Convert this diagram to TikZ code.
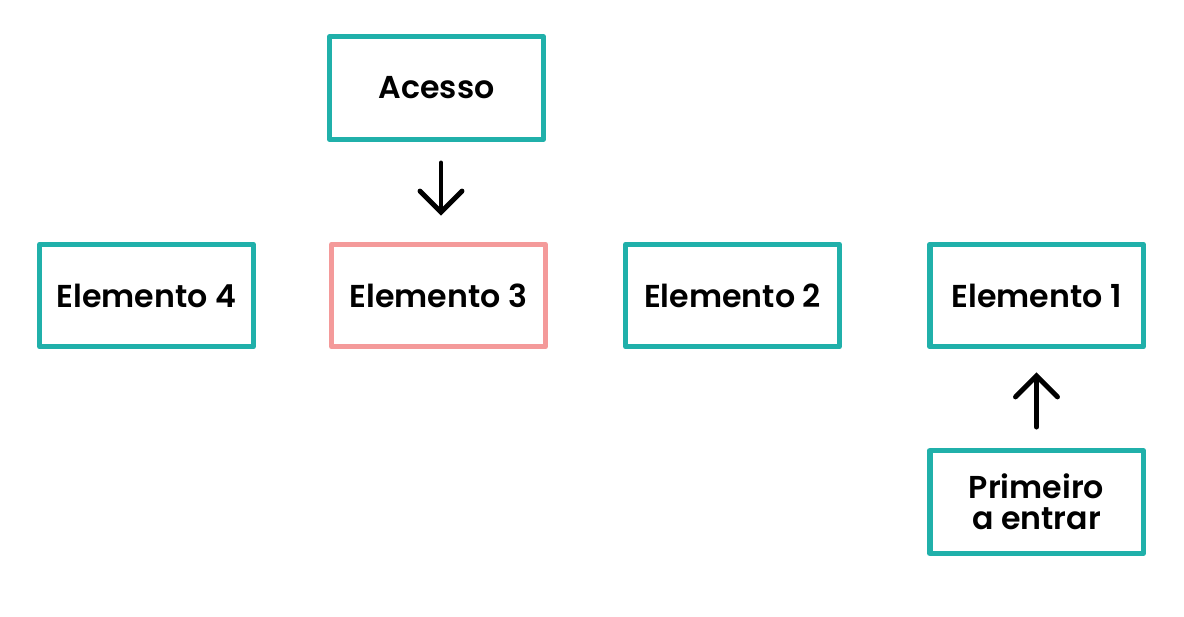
\documentclass[tikz,border=0pt]{standalone}
\usepackage{fontspec}
\setmainfont{Poppins}[BoldFont={Poppins SemiBold}]
\usetikzlibrary{arrows.meta, positioning}
\definecolor{tealbox}{RGB}{32,176,170}
\definecolor{pinkbox}{RGB}{244,154,154}

\begin{document}
\begin{tikzpicture}[x=0.02cm, y=-0.02cm, line cap=round, line join=round,
	box/.style={draw=tealbox, line width=3.1pt, minimum width=4.27cm, minimum height=2.05cm,
		align=center, font=\fontsize{18}{17.6}\selectfont\bfseries},
	pinked/.style={box, draw=pinkbox},
	flow/.style={-{Straight Barb[length=0.42cm, width=0.84cm, line cap=round]}, line width=2.8pt, black}]
	% canvas
	\useasboundingbox (0,0) rectangle (1184,616);
	
	% boxes
	\node[box] (acesso) at (436.5,88) {Acesso};
	\node[box] (el4) at (146.5,295.5) {Elemento 4};
	\node[pinked] (el3) at (438.5,295.5) {Elemento 3};
	\node[box] (el2) at (732.5,295.5) {Elemento 2};
	\node[box] (el1) at (1036.5,295.5) {Elemento 1};
	\node[box] (first) at (1036.5,502) {Primeiro\\a entrar};
	
	% arrows
	\coordinate (down) at ([xshift=0.09cm]acesso.south);
	\draw[flow, shorten <=0.42cm, shorten >=0.52cm] (down) -- (down |- el3.north);
	\draw[flow, shorten <=0.42cm, shorten >=0.46cm] (first.north) -- (el1.south);
\end{tikzpicture}
\end{document}
